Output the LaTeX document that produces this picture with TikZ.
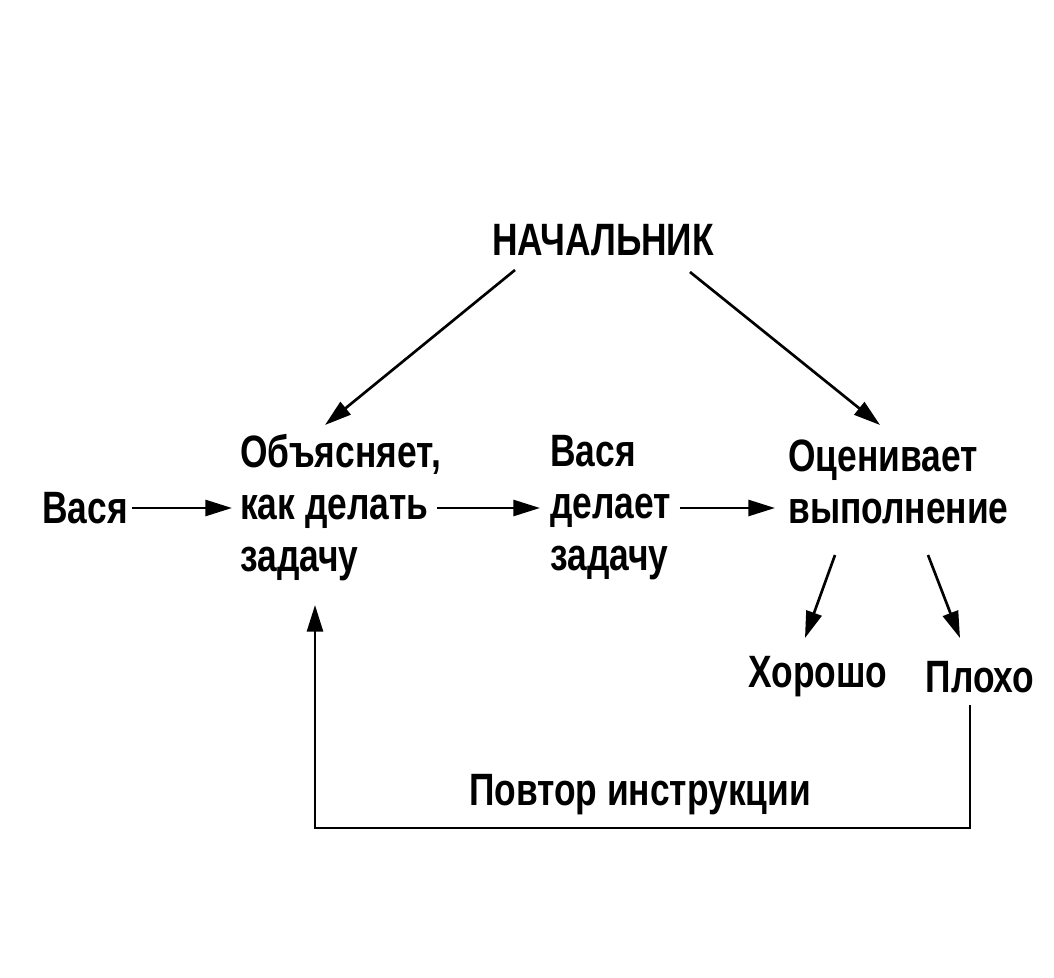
\documentclass[tikz,border=0pt]{standalone}
\usepackage{fontspec}
\setmainfont{Liberation Sans}[FakeStretch=0.78]
\usetikzlibrary{arrows.meta}
\begin{document}
\begin{tikzpicture}[x=0.75pt,y=-0.75pt,
  t/.style={inner sep=0pt,font=\fontsize{34}{39}\selectfont\bfseries,align=left},
  a/.style={line width=2pt,-{Triangle[length=20pt,width=12pt]}}]
\useasboundingbox (0,0) rectangle (1054,978);
\node[t] (boss) at (603,240) {НАЧАЛЬНИК};
\node[t,anchor=west] (vasya) at (42,508) {Вася};
\node[t,anchor=west] (b1) at (240,508) {Объясняет,\\как делать\\задачу};
\node[t,anchor=west] (b2) at (550,508) {Вася\\делает\\задачу};
\node[t,anchor=north west] (b3) at (788,440) {Оценивает\\выполнение};
\node[t] (good) at (818,677) {Хорошо};
\node[t] (bad) at (980,677) {Плохо};
\node[t] (rep) at (640,795) {Повтор инструкции};
\coordinate (c1) at (970,828);
\coordinate (c2) at (315,828);
\coordinate (c3) at (315,605);
\draw[a] (132,508) -- (232,508);
\draw[a] (437,508) -- (540,508);
\draw[a] (680,508) -- (775,508);
\draw[a] (515,270) -- (325,425);
\draw[a] (690,272) -- (880,425);
\draw[a] (835,555) -- (805,638);
\draw[a] (928,555) -- (960,638);
\draw[line width=2pt,-{Triangle[length=20pt,width=12pt]}] (bad.south -| c1) ++(0,12) -- (c1) -- (c2) -- (c3);
\end{tikzpicture}
\end{document}
